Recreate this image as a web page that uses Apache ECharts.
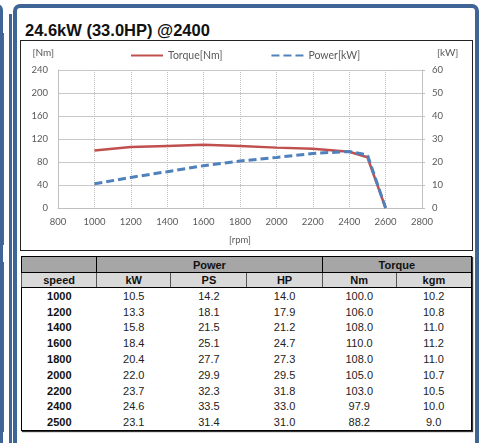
<!DOCTYPE html>
<html>
<head>
<meta charset="utf-8">
<script src="https://cdn.jsdelivr.net/npm/echarts@6/dist/echarts.min.js"></script>
<style>
  body { margin: 0; width: 479px; height: 443px; overflow: hidden; position: relative; background: #fff; }
  .blue { position: absolute; background: #3f6597; }
  #nbr { position: absolute; left: -37px; top: 4px; width: 40px; height: 520px; border: 3px solid #3f6597; border-radius: 6px; box-sizing: border-box; }
  #panel { position: absolute; left: 13px; top: 4px; width: 466px; height: 520px; border: 4px solid #3f6597; border-radius: 7px; box-sizing: border-box; }
  .gline { position: absolute; left: 3px; width: 1px; background: #666; }
  #title { position: absolute; left: 25px; top: 21px; font: bold 16.5px "Liberation Sans", Arial, sans-serif; line-height: 19px; color: #111; }
  #main { position: absolute; left: 20px; top: 40px; width: 453px; height: 211px; border: 1px solid #222; box-sizing: border-box; }
  #tbl { position: absolute; left: 21px; top: 256px; width: 451px; border-collapse: collapse; table-layout: fixed;
         font: 11px "Liberation Sans", Arial, sans-serif; color: #222; border: 1px solid #000; box-shadow: 1px 1px 1px #333; }
  #tbl td, #tbl th { padding: 0; text-align: center; line-height: 12px; }
  #tbl tr.h1 th { background: #a6a6a6; height: 15px; border: 1px solid #000; font-weight: bold; color: #111; }
  #tbl tr.h2 th { background: #d9d9d9; height: 14px; border-top: 1px solid #000; border-bottom: 1px solid #000; border-left: 1px solid #555; font-weight: bold; color: #111; }
  #tbl tr.b td { height: 15.8px; }
  #tbl tr.b td.sp { font-weight: bold; color: #111; }
</style>
</head>
<body>
<div id="nbr"></div>
<div class="gline" style="top:33px;height:212px"></div>
<div class="gline" style="top:262px;height:170px"></div>
<div class="blue" style="left:9px;top:14px;width:3px;height:440px"></div>
<div id="panel"></div>
<div id="title">24.6kW (33.0HP) @2400</div>
<div id="main"></div>
<table id="tbl">
  <colgroup><col style="width:75px"><col style="width:74px"><col style="width:76px"><col style="width:75px"><col style="width:74px"><col style="width:75px"></colgroup>
  <thead>
    <tr class="h1"><th></th><th colspan="3">Power</th><th colspan="2">Torque</th></tr>
    <tr class="h2"><th>speed</th><th>kW</th><th>PS</th><th>HP</th><th>Nm</th><th>kgm</th></tr>
  </thead>
  <tbody id="body"></tbody>
</table>
<script>
// engine data (table rows)
const speeds = [1000, 1200, 1400, 1600, 1800, 2000, 2200, 2400, 2500];
const kW  = [10.5, 13.3, 15.8, 18.4, 20.4, 22.0, 23.7, 24.6, 23.1];
const PS  = [14.2, 18.1, 21.5, 25.1, 27.7, 29.9, 32.3, 33.5, 31.4];
const HP  = [14.0, 17.9, 21.2, 24.7, 27.3, 29.5, 31.8, 33.0, 31.0];
const Nm  = [100.0, 106.0, 108.0, 110.0, 108.0, 105.0, 103.0, 97.9, 88.2];
const kgm = [10.2, 10.8, 11.0, 11.2, 11.0, 10.7, 10.5, 10.0, 9.0];
// governor cut-off: both curves fall to zero here
const cutoffRpm = 2600;

// table
let rows = '';
speeds.forEach((s, i) => {
  rows += '<tr class="b"><td class="sp">' + s + '</td><td>' + kW[i].toFixed(1) + '</td><td>' + PS[i].toFixed(1) +
          '</td><td>' + HP[i].toFixed(1) + '</td><td>' + Nm[i].toFixed(1) + '</td><td>' + kgm[i].toFixed(1) + '</td></tr>';
});
document.getElementById('body').innerHTML = rows;

// chart
const torqueData = speeds.map((s, i) => [s, Nm[i]]).concat([[cutoffRpm, 0]]);
const powerData = speeds.map((s, i) => [s, kW[i]]).concat([[cutoffRpm, 0]]);

let myChart = echarts.init(document.getElementById('main'));
const font = 'Lato';
const grey = '#595959';

let option = {
  animation: false,
  textStyle: { fontFamily: font },
  grid: { left: 37, right: 50, top: 29, bottom: 37 },
  legend: {
    left: 104, top: 4,
    itemWidth: 32, itemHeight: 10, itemGap: 48,
    itemStyle: { opacity: 0 },
    textStyle: { fontFamily: font, fontSize: 10.5, color: grey },
    data: ['Torque[Nm]', 'Power[kW]']
  },
  xAxis: {
    type: 'value', min: 800, max: 2800, interval: 200,
    name: '[rpm]', nameLocation: 'middle', nameGap: 27,
    nameTextStyle: { fontFamily: font, fontSize: 9.5, color: grey },
    axisLine: { lineStyle: { color: '#bfbfbf' } },
    axisTick: { show: false },
    axisLabel: { fontFamily: font, fontSize: 9.5, color: grey, margin: 9, formatter: v => String(v) },
    splitLine: { show: true, lineStyle: { type: 'dotted', color: '#bfbfbf' } }
  },
  yAxis: [
    {
      type: 'value', min: 0, max: 240, interval: 40,
      name: '[Nm]', nameLocation: 'end', nameGap: 12,
      nameTextStyle: { fontFamily: font, fontSize: 10, color: grey, align: 'right', padding: [0, 4, 0, 0] },
      axisLine: { show: true, lineStyle: { color: '#bfbfbf' } },
      axisTick: { show: false },
      axisLabel: { fontFamily: font, fontSize: 9.5, color: grey, margin: 10 },
      splitLine: { lineStyle: { color: '#c8c8c8' } }
    },
    {
      type: 'value', min: 0, max: 60, interval: 10, position: 'right',
      name: '[kW]', nameLocation: 'end', nameGap: 12,
      nameTextStyle: { fontFamily: font, fontSize: 10, color: grey, align: 'left', padding: [0, 0, 0, 15] },
      axisLine: { show: true, lineStyle: { color: '#bfbfbf' } },
      axisTick: { show: true, length: 3, lineStyle: { color: '#bfbfbf' } },
      axisLabel: { fontFamily: font, fontSize: 9.5, color: grey, margin: 10 },
      splitLine: { show: false }
    }
  ],
  series: [
    {
      name: 'Torque[Nm]', type: 'line', yAxisIndex: 0,
      data: torqueData, symbol: 'none',
      itemStyle: { color: '#c0504d' },
      lineStyle: { color: '#c0504d', width: 2.5 }
    },
    {
      name: 'Power[kW]', type: 'line', yAxisIndex: 1,
      data: powerData, symbol: 'none',
      itemStyle: { color: '#4f81bd' },
      lineStyle: { color: '#4f81bd', width: 3, type: [8, 4] }
    }
  ]
};

myChart.setOption(option);
</script>
</body>
</html>
